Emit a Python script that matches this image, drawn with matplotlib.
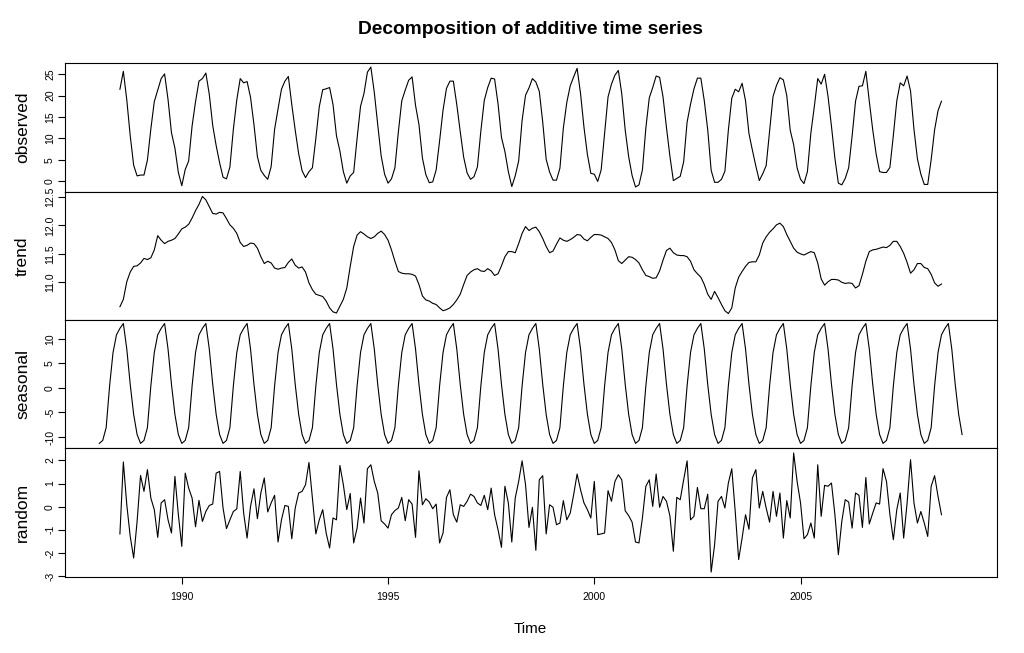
import numpy as np
import matplotlib.pyplot as plt

plt.rcParams['font.family'] = ['Liberation Sans', 'DejaVu Sans']

# seasonal figure, Jan..Dec
seasonal_figure = [-11.3, -10.7, -8.1, 0.4, 7.2, 10.8, 12.1, 13.1, 7.9, 0.7, -5.4, -9.5]

# monthly, Jul 1988 .. Jun 2008
observed = [
    21.5, 25.7, 19.0, 10.6, 3.7, 1.2, 1.4, 1.4, 4.9, 12.2, 18.6, 21.3,
    24.0, 25.1, 19.1, 11.3, 7.7, 2.0, -1.1, 2.7, 4.7, 12.9, 18.6, 23.4,
    24.0, 25.3, 20.3, 13.0, 8.3, 4.3, 0.9, 0.5, 3.3, 12.1, 19.0, 24.0,
    23.0, 23.3, 19.6, 13.2, 5.7, 2.5, 1.3, 0.4, 3.4, 12.1, 16.9, 21.5,
    23.4, 24.5, 17.9, 11.9, 6.4, 2.4, 0.8, 2.2, 3.1, 10.0, 17.4, 21.4,
    21.6, 21.9, 17.9, 10.6, 7.0, 2.2, -0.5, 1.2, 2.0, 10.0, 17.5, 20.5,
    25.5, 26.7, 20.8, 13.2, 5.9, 1.6, -0.5, 0.5, 3.1, 11.5, 18.8, 21.3,
    23.6, 24.4, 17.7, 13.2, 5.4, 1.5, -0.4, -0.2, 2.6, 9.4, 16.6, 21.7,
    23.4, 23.4, 17.9, 11.6, 5.6, 1.9, 0.4, 1.0, 3.3, 11.7, 18.9, 21.9,
    24.1, 23.9, 18.1, 10.2, 6.9, 2.2, -1.3, 1.2, 4.7, 14.2, 20.1, 21.8,
    24.0, 23.2, 21.0, 13.8, 5.1, 2.1, 0.2, 0.2, 3.0, 12.4, 18.4, 22.3,
    24.4, 26.4, 20.5, 12.6, 6.2, 1.8, 1.6, -0.1, 2.6, 11.1, 19.7, 22.7,
    24.8, 25.9, 20.4, 11.9, 5.7, 1.3, -1.4, -0.9, 2.6, 12.4, 19.5, 21.9,
    24.6, 24.3, 19.7, 12.5, 5.8, 0.1, 0.6, 1.1, 4.5, 13.8, 18.0, 21.6,
    24.1, 24.1, 18.8, 12.0, 2.5, -0.3, -0.3, 0.4, 2.3, 11.9, 19.4, 21.5,
    20.9, 22.9, 18.8, 11.1, 7.2, 3.5, 0.1, 1.7, 3.6, 11.6, 19.8, 22.4,
    24.2, 23.7, 20.0, 11.9, 8.5, 3.1, 0.4, -0.6, 2.2, 11.2, 17.4, 24.0,
    22.7, 25.0, 19.8, 12.8, 5.3, -0.5, -0.9, 0.6, 3.1, 10.5, 18.7, 22.2,
    22.3, 25.7, 18.7, 12.0, 6.3, 2.2, 2.0, 2.0, 3.2, 10.7, 18.8, 23.0,
    22.3, 24.6, 21.1, 12.1, 5.2, 1.6, -0.8, -0.8, 5.0, 12.0, 16.5, 18.7,
]

trend = [
    10.57, 10.70, 11.01, 11.18, 11.28, 11.29, 11.34, 11.42, 11.40, 11.43, 11.57, 11.82,
    11.74, 11.68, 11.72, 11.74, 11.77, 11.85, 11.94, 11.97, 12.02, 12.13, 12.26, 12.37,
    12.51, 12.45, 12.33, 12.21, 12.20, 12.23, 12.22, 12.12, 12.01, 11.95, 11.86, 11.70,
    11.63, 11.65, 11.69, 11.68, 11.60, 11.45, 11.33, 11.37, 11.34, 11.25, 11.23, 11.25,
    11.26, 11.35, 11.41, 11.30, 11.25, 11.27, 11.18, 10.99, 10.87, 10.79, 10.77, 10.75,
    10.67, 10.55, 10.48, 10.46, 10.58, 10.70, 10.90, 11.28, 11.63, 11.83, 11.89, 11.85,
    11.80, 11.77, 11.80, 11.86, 11.90, 11.84, 11.74, 11.57, 11.37, 11.19, 11.16, 11.15,
    11.15, 11.14, 11.11, 10.96, 10.76, 10.69, 10.67, 10.63, 10.61, 10.55, 10.50, 10.52,
    10.55, 10.61, 10.69, 10.79, 10.96, 11.12, 11.18, 11.22, 11.24, 11.20, 11.19, 11.24,
    11.20, 11.12, 11.15, 11.29, 11.45, 11.54, 11.54, 11.52, 11.68, 11.86, 11.98, 11.91,
    11.95, 11.97, 11.89, 11.77, 11.63, 11.52, 11.55, 11.67, 11.78, 11.74, 11.72, 11.75,
    11.79, 11.84, 11.83, 11.76, 11.73, 11.79, 11.84, 11.84, 11.83, 11.80, 11.77, 11.70,
    11.57, 11.38, 11.33, 11.39, 11.45, 11.44, 11.40, 11.34, 11.22, 11.12, 11.10, 11.07,
    11.08, 11.20, 11.39, 11.56, 11.60, 11.52, 11.48, 11.47, 11.47, 11.45, 11.37, 11.22,
    11.15, 11.09, 10.96, 10.79, 10.70, 10.84, 10.73, 10.61, 10.50, 10.45, 10.55, 10.90,
    11.09, 11.19, 11.28, 11.35, 11.36, 11.36, 11.48, 11.69, 11.80, 11.88, 11.94, 12.01,
    12.04, 11.98, 11.84, 11.72, 11.60, 11.53, 11.50, 11.48, 11.51, 11.54, 11.52, 11.34,
    11.06, 10.95, 11.01, 11.05, 11.05, 11.04, 11.00, 10.98, 10.99, 10.98, 10.90, 10.94,
    11.14, 11.37, 11.54, 11.57, 11.58, 11.60, 11.62, 11.61, 11.65, 11.72, 11.72, 11.63,
    11.51, 11.35, 11.16, 11.22, 11.33, 11.33, 11.26, 11.24, 11.14, 10.99, 10.93, 10.97,
]

random = [
    -1.18, 1.93, 0.08, -1.29, -2.22, -0.64, 1.35, 0.66, 1.60, 0.37, -0.13, -1.33,
    0.16, 0.30, -0.57, -1.14, 1.31, -0.35, -1.72, 1.45, 0.80, 0.37, -0.87, 0.27,
    -0.64, -0.21, 0.05, 0.11, 1.45, 1.52, -0.06, -0.95, -0.57, -0.21, -0.10, 1.52,
    -0.28, -1.36, 0.01, 0.77, -0.52, 0.59, 1.24, -0.23, 0.16, 0.49, -1.53, -0.57,
    0.05, 0.01, -1.39, -0.06, 0.59, 0.66, 0.95, 1.91, 0.37, -1.18, -0.57, -0.13,
    -1.14, -1.79, -0.49, -0.57, 1.78, 0.95, -0.13, 0.57, -1.57, -0.93, 0.37, -0.71,
    1.64, 1.81, 1.09, 0.59, -0.61, -0.75, -0.93, -0.35, -0.17, -0.06, 0.40, -0.61,
    0.30, 0.11, -1.33, 1.55, 0.08, 0.34, 0.20, -0.09, 0.11, -1.57, -1.14, 0.40,
    0.73, -0.35, -0.67, 0.08, 0.01, 0.23, 0.54, 0.44, 0.16, 0.05, 0.49, -0.13,
    0.80, -0.35, -1.00, -1.76, 0.88, 0.16, -1.53, 0.37, 1.09, 1.98, 0.95, -0.90,
    -0.03, -1.89, 1.16, 1.34, -1.18, 0.08, -0.03, -0.78, -0.71, 0.26, -0.57, -0.28,
    0.52, 1.41, 0.73, 0.16, -0.13, -0.49, 1.09, -1.21, -1.18, -1.14, 0.69, 0.23,
    1.09, 1.38, 1.16, -0.18, -0.39, -0.67, -1.53, -1.57, -0.49, 0.88, 1.16, 0.01,
    1.41, -0.03, 0.44, 0.23, -0.40, -1.93, 0.40, 0.30, 1.16, 1.98, -0.57, -0.42,
    0.83, -0.09, -0.09, 0.54, -2.83, -1.65, 0.23, 0.44, -0.06, 1.02, 1.64, -0.21,
    -2.29, -1.36, -0.35, -0.98, 1.24, 1.60, -0.06, 0.66, -0.06, -0.67, 0.66, -0.42,
    0.59, -1.36, 0.26, -0.49, 2.32, 1.09, 0.16, -1.39, -1.21, -0.71, -1.36, 1.81,
    -0.42, 0.92, 0.88, 1.02, -0.35, -2.08, -0.64, 0.30, 0.20, -0.93, 0.59, 0.49,
    -0.90, 1.26, -0.75, -0.28, 0.16, 0.11, 1.64, 1.09, -0.35, -1.43, -0.13, 0.59,
    -1.36, 0.16, 2.03, 0.16, -0.71, -0.21, -0.71, -1.29, 0.88, 1.34, 0.44, -0.35,
]

freq = 12
t_obs = 1988.5 + np.arange(len(observed)) / freq
seasonal = np.tile(seasonal_figure, 21)          # Jan 1988 .. Dec 2008
t_seas = 1988.0 + np.arange(len(seasonal)) / freq

W, H = 1024, 653
fig = plt.figure(figsize=(W / 100, H / 100), dpi=100)

left, right = 64.8, 996.6
top, bottom = 63.3, 576.7
ph = (bottom - top) / 4

panels = [
    ('observed', t_obs, observed, (-2.49, 27.58), [0, 5, 10, 15, 20, 25], ['0', '5', '10', '15', '20', '25']),
    ('trend', t_obs, trend, (10.337, 12.594), [11.0, 11.5, 12.0, 12.5], ['11.0', '11.5', '12.0', '12.5']),
    ('seasonal', t_seas, seasonal, (-12.31, 13.81), [-10, -5, 0, 5, 10], ['-10', '-5', '0', '5', '10']),
    ('random', t_obs, random, (-3.03, 2.52), [-3, -2, -1, 0, 1, 2], ['-3', '-2', '-1', '0', '1', '2']),
]

for k, (name, t, y, ylim, ticks, labels) in enumerate(panels):
    y0 = top + k * ph
    ax = fig.add_axes([left / W, 1 - (y0 + ph) / H, (right - left) / W, ph / H])
    ax.plot(t, y, color='black', lw=0.8)
    ax.set_xlim(1987.164, 2009.753)
    ax.set_ylim(*ylim)
    ax.set_yticks(ticks)
    ax.set_yticklabels(labels, rotation=90, va='center')
    ax.tick_params(axis='y', direction='out', length=5, width=0.8, pad=2, labelsize=7.5)
    for s in ax.spines.values():
        s.set_linewidth(0.8)
    if k < 3:
        ax.tick_params(axis='x', bottom=False, labelbottom=False)
    else:
        ax.set_xticks([1990, 1995, 2000, 2005])
        ax.set_xticklabels(['1990', '1995', '2000', '2005'])
        ax.tick_params(axis='x', direction='out', length=5, width=0.8, pad=6, labelsize=7.5)
    fig.text(27 / W, 1 - (y0 + ph / 2) / H, name, rotation=90, rotation_mode='anchor',
             ha='center', va='baseline', fontsize=12.5)

fig.text(530.7 / W, 1 - 30 / H, 'Decomposition of additive time series',
         ha='center', va='center', fontsize=13.8, fontweight='bold')
fig.text(530.7 / W, 1 - 633 / H, 'Time', ha='center', va='baseline', fontsize=11)

fig.savefig('out.png', dpi=100)
